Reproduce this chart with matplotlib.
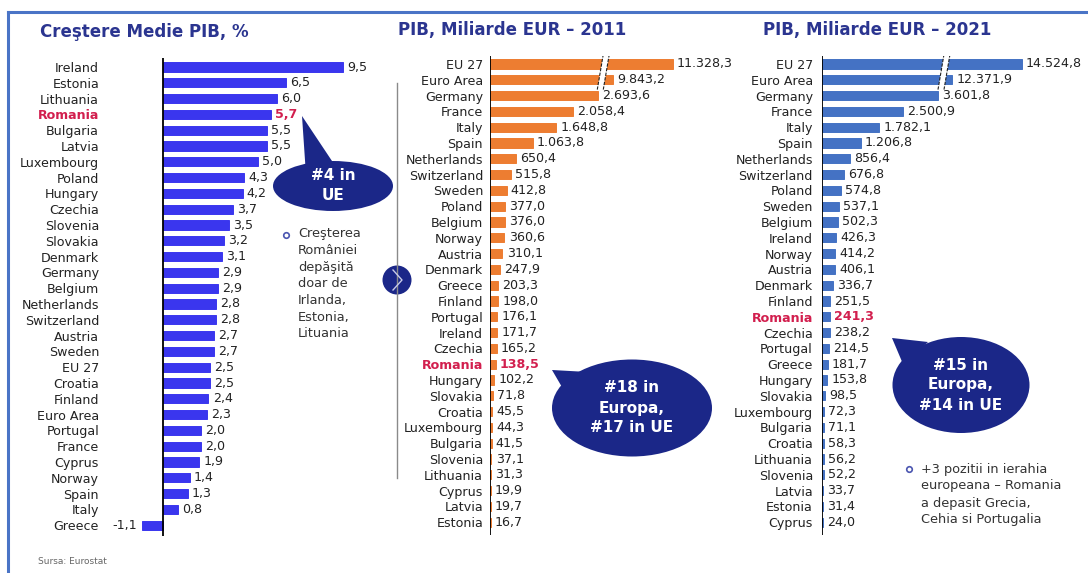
import matplotlib
matplotlib.use("Agg")
import matplotlib.pyplot as plt
from matplotlib.patches import Ellipse, Polygon, Circle
from matplotlib.lines import Line2D

# ---------------- data ----------------
growth_countries = ["Ireland", "Estonia", "Lithuania", "Romania", "Bulgaria", "Latvia",
                    "Luxembourg", "Poland", "Hungary", "Czechia", "Slovenia", "Slovakia",
                    "Denmark", "Germany", "Belgium", "Netherlands", "Switzerland", "Austria",
                    "Sweden", "EU 27", "Croatia", "Finland", "Euro Area", "Portugal", "France",
                    "Cyprus", "Norway", "Spain", "Italy", "Greece"]
growth_values = [9.5, 6.5, 6.0, 5.7, 5.5, 5.5, 5.0, 4.3, 4.2, 3.7, 3.5, 3.2, 3.1, 2.9, 2.9,
                 2.8, 2.8, 2.7, 2.7, 2.5, 2.5, 2.4, 2.3, 2.0, 2.0, 1.9, 1.4, 1.3, 0.8, -1.1]

gdp2011_countries = ["EU 27", "Euro Area", "Germany", "France", "Italy", "Spain", "Netherlands",
                     "Switzerland", "Sweden", "Poland", "Belgium", "Norway", "Austria", "Denmark",
                     "Greece", "Finland", "Portugal", "Ireland", "Czechia", "Romania", "Hungary",
                     "Slovakia", "Croatia", "Luxembourg", "Bulgaria", "Slovenia", "Lithuania",
                     "Cyprus", "Latvia", "Estonia"]
gdp2011_values = [11328.3, 9843.2, 2693.6, 2058.4, 1648.8, 1063.8, 650.4, 515.8, 412.8, 377.0,
                  376.0, 360.6, 310.1, 247.9, 203.3, 198.0, 176.1, 171.7, 165.2, 138.5, 102.2,
                  71.8, 45.5, 44.3, 41.5, 37.1, 31.3, 19.9, 19.7, 16.7]

gdp2021_countries = ["EU 27", "Euro Area", "Germany", "France", "Italy", "Spain", "Netherlands",
                     "Switzerland", "Poland", "Sweden", "Belgium", "Ireland", "Norway", "Austria",
                     "Denmark", "Finland", "Romania", "Czechia", "Portugal", "Greece", "Hungary",
                     "Slovakia", "Luxembourg", "Bulgaria", "Croatia", "Lithuania", "Slovenia",
                     "Latvia", "Estonia", "Cyprus"]
gdp2021_values = [14524.8, 12371.9, 3601.8, 2500.9, 1782.1, 1206.8, 856.4, 676.8, 574.8, 537.1,
                  502.3, 426.3, 414.2, 406.1, 336.7, 251.5, 241.3, 238.2, 214.5, 181.7, 153.8,
                  98.5, 72.3, 71.1, 58.3, 56.2, 52.2, 33.7, 31.4, 24.0]

titles = ["Creştere Medie PIB, %", "PIB, Miliarde EUR – 2011", "PIB, Miliarde EUR – 2021"]
highlight = "Romania"

# axis-break settings (value where the axis is cut, and hidden span)
break2011 = (2850.0, 2850.0 + 6776.0)
break2021 = (3820.0, 3820.0 + 8320.0)

# ---------------- style ----------------
W, H = 1088, 573
DPI = 100
C_GROWTH = "#3a36ee"
C_2011 = "#ed7d31"
C_2021 = "#4472c4"
C_TITLE = "#2b3590"
C_CALLOUT = "#1b2788"
C_ROM = "#d21f4e"
C_TEXT = "#222222"
FS = 9.1

plt.rcParams["font.family"] = ["DejaVu Sans"]

fig = plt.figure(figsize=(W / DPI, H / DPI), dpi=DPI)


def fmt(v):
    s = f"{abs(v):,.1f}".replace(",", "X").replace(".", ",").replace("X", ".")
    return ("-" + s) if v < 0 else s


def shown(v, brk):
    if brk is None:
        return v
    lo, hi = brk
    return lo + (v - hi) if v > hi else v


def make_axes(left_px, right_px, top_px, bottom_px, zero_px, px_per_unit,
              first_row_px, row_px, nrows):
    ax = fig.add_axes([left_px / W, 1 - bottom_px / H,
                       (right_px - left_px) / W, (bottom_px - top_px) / H])
    ax.set_xlim((left_px - zero_px) / px_per_unit, (right_px - zero_px) / px_per_unit)
    ax.set_ylim((bottom_px - first_row_px) / row_px, (top_px - first_row_px) / row_px)
    ax.patch.set_alpha(0)
    for s in ax.spines.values():
        s.set_visible(False)
    ax.set_xticks([])
    return ax


def draw_panel(ax, countries, values, color, brk, label_pad_pt):
    disp = [shown(v, brk) for v in values]
    y = list(range(len(countries)))
    ax.barh(y, disp, height=0.58, color=color, edgecolor=color, linewidth=0.7, zorder=2)
    ax.set_yticks(y)
    ax.set_yticklabels(countries, fontsize=FS)
    ax.tick_params(axis="y", length=0, pad=label_pad_pt)
    for lab, c in zip(ax.get_yticklabels(), countries):
        if c == highlight:
            lab.set_color(C_ROM)
            lab.set_fontweight("bold")
        else:
            lab.set_color(C_TEXT)
    for yi, v, d, c in zip(y, values, disp, countries):
        kw = dict(fontsize=FS, va="center", zorder=4,
                  color=C_ROM if c == highlight else C_TEXT,
                  fontweight="bold" if c == highlight else "normal")
        if v >= 0:
            ax.annotate(fmt(v), (d, yi), xytext=(3, 0), textcoords="offset points",
                        ha="left", **kw)
        else:
            ax.annotate(fmt(v), (d, yi), xytext=(-4, 0), textcoords="offset points",
                        ha="right", **kw)
    ax.axvline(0, color="black", lw=1.3, zorder=3)
    return disp


def draw_break(ax, brk, px_per_unit):
    lo = brk[0]
    d = 1.0 / px_per_unit
    top, bot = -0.62, 1.62
    band = Polygon([(lo - 1 * d, top), (lo + 5 * d, top), (lo - 1 * d, bot), (lo - 7 * d, bot)],
                   closed=True, facecolor="white", edgecolor="none", zorder=3)
    ax.add_patch(band)
    for off in (-1 * d, 5 * d):
        ax.add_line(Line2D([lo + off, lo + off - 6 * d], [top, bot], color="#222222",
                           lw=0.8, ls=(0, (3, 1.2)), zorder=3.5))


# left panel
ax1 = make_axes(110, 380, 58, 536, 163, 18.95, 67, 15.8, len(growth_countries))
draw_panel(ax1, growth_countries, growth_values, C_GROWTH, None, (110 - 99) * 0.72)

# middle panel
ax2 = make_axes(490, 760, 56, 535, 490, 0.0401, 64, 15.8, len(gdp2011_countries))
draw_panel(ax2, gdp2011_countries, gdp2011_values, C_2011, break2011, 5)
draw_break(ax2, break2011, 0.0401)

# right panel
ax3 = make_axes(822, 1086, 56, 535, 822, 0.0322, 64, 15.8, len(gdp2021_countries))
draw_panel(ax3, gdp2021_countries, gdp2021_values, C_2021, break2021, 6.5)
draw_break(ax3, break2021, 0.0322)

# ---------------- overlay (pixel coordinates) ----------------
ov = fig.add_axes([0, 0, 1, 1], zorder=10)
ov.set_xlim(0, W)
ov.set_ylim(H, 0)
ov.axis("off")
ov.patch.set_alpha(0)

# frame
ov.add_line(Line2D([8, W], [12, 12], color="#4a74c6", lw=2.2))
ov.add_line(Line2D([8, 8], [12, H], color="#4a74c6", lw=2.2))

# titles
ov.text(40, 32, titles[0], fontsize=12, fontweight="bold", color=C_TITLE, va="center", ha="left")
ov.text(398, 30, titles[1], fontsize=12, fontweight="bold", color=C_TITLE, va="center", ha="left")
ov.text(763, 30, titles[2], fontsize=12, fontweight="bold", color=C_TITLE, va="center", ha="left")

# separator line with arrow circle
ov.add_line(Line2D([397, 397], [83, 478], color="#8a8a8a", lw=1.0))
ov.add_patch(Circle((397, 280), 14.5, facecolor=C_CALLOUT, edgecolor="none"))
ov.add_line(Line2D([393, 402, 393], [270, 280, 290], color="#c8cbe8", lw=1.0))


def callout(cx, cy, w, h, tri, lines, ty_step=20):
    ov.add_patch(Polygon(tri, closed=True, facecolor=C_CALLOUT, edgecolor="none"))
    ov.add_patch(Ellipse((cx, cy), w, h, facecolor=C_CALLOUT, edgecolor="none"))
    n = len(lines)
    for k, t in enumerate(lines):
        ov.text(cx, cy + (k - (n - 1) / 2) * ty_step, t, color="white", fontsize=11,
                fontweight="bold", ha="center", va="center")


callout(333, 186, 120, 50, [(302, 116), (306, 175), (338, 170)], ["#4 in", "UE"])
callout(632, 408, 160, 97, [(552, 370), (588, 372), (566, 394)],
        ["#18 in", "Europa,", "#17 in UE"])
callout(961, 385, 137, 96, [(892, 338), (928, 342), (903, 364)],
        ["#15 in", "Europa,", "#14 in UE"])

# notes
note_left = ["Creşterea", "României", "depăşită", "doar de", "Irlanda,", "Estonia,", "Lituania"]
ov.plot([286], [235], marker="o", ms=4, mfc="white", mec="#4a55b0", mew=1.2)
for k, t in enumerate(note_left):
    ov.text(298, 234 + k * 16.6, t, fontsize=9.3, color="#333333", va="center", ha="left")

note_right = ["+3 pozitii in ierahia", "europeana – Romania", "a depasit Grecia,",
              "Cehia si Portugalia"]
ov.plot([909], [469], marker="o", ms=4, mfc="white", mec="#4a55b0", mew=1.2)
for k, t in enumerate(note_right):
    ov.text(921, 469 + k * 17, t, fontsize=9.3, color="#333333", va="center", ha="left")

ov.text(38, 562, "Sursa: Eurostat", fontsize=6.5, color="#666666", va="center", ha="left")

fig.savefig("out.png", dpi=DPI)
